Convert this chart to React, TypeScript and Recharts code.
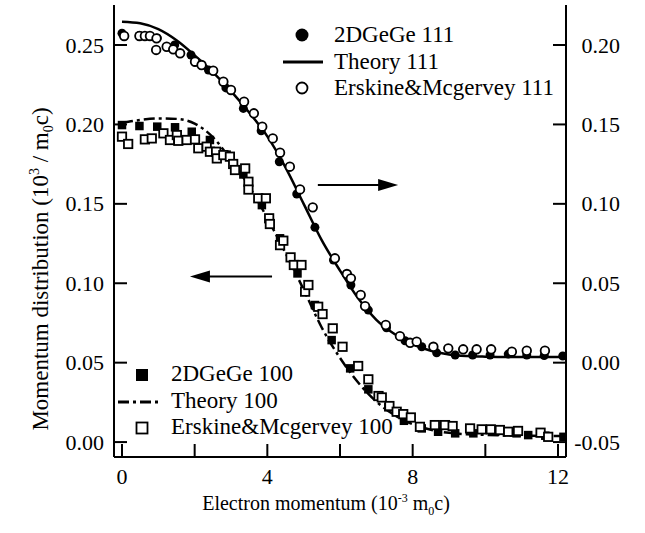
import React from "react";
import {
  ComposedChart,
  Line,
  Scatter,
  XAxis,
  YAxis,
  ReferenceLine,
} from "recharts";

const FONT = "Liberation Serif, DejaVu Serif, serif";

// ---- x ticks ----
const xTicks = [0, 2, 4, 6, 8, 10, 12];
const xLabelTicks = [0, 4, 8, 12];
const leftTicks = [0, 0.05, 0.1, 0.15, 0.2, 0.25];
const rightTicks = [-0.05, 0, 0.05, 0.1, 0.15, 0.2];

// ---- 111 series (right axis) ----
const theory111X = [0, 0.5, 1, 1.5, 2, 2.5, 3, 3.5, 4, 4.5, 5, 5.5, 6, 6.5, 7, 7.5, 8, 8.5, 9, 9.5, 10, 11, 12.2];
const theory111Y = [0.2147, 0.2137, 0.21, 0.203, 0.1935, 0.183, 0.171, 0.1575, 0.1425, 0.123, 0.1, 0.077, 0.058, 0.0405, 0.027, 0.018, 0.0115, 0.0075, 0.0052, 0.0042, 0.0038, 0.0035, 0.0035];

const ge111X = [0, 0.48, 0.97, 1.45, 1.9, 2.38, 2.86, 3.34, 3.83, 4.33, 4.81, 5.31, 5.82, 6.3, 6.78, 7.28, 7.79, 8.25, 8.66, 9.17, 9.65, 10.13, 10.63, 11.14, 11.62, 12.13];
const ge111Y = [0.2074, 0.206, 0.2045, 0.2, 0.1937, 0.1843, 0.173, 0.1601, 0.146, 0.1265, 0.1062, 0.0852, 0.0646, 0.0489, 0.0331, 0.022, 0.0138, 0.01, 0.0062, 0.0048, 0.0048, 0.0048, 0.0054, 0.0048, 0.0045, 0.0042];

const em111X = [0.06, 0.48, 0.63, 0.77, 0.95, 0.94, 1.23, 1.41, 1.6, 2.01, 2.19, 2.51, 2.79, 3.0, 3.36, 3.63, 3.86, 4.15, 4.35, 4.62, 4.9, 5.25, 5.86, 6.19, 6.3, 6.57, 6.69, 7.26, 7.65, 7.93, 8.11, 8.57, 8.98, 9.39, 9.76, 10.16, 10.73, 11.14, 11.64];
const em111Y = [0.2057, 0.2057, 0.2057, 0.2057, 0.2042, 0.1969, 0.1989, 0.1973, 0.1948, 0.1895, 0.1874, 0.1838, 0.1769, 0.1717, 0.1643, 0.157, 0.1486, 0.1412, 0.1322, 0.1234, 0.1091, 0.0978, 0.0657, 0.0558, 0.0531, 0.0426, 0.0356, 0.0237, 0.0167, 0.0125, 0.0132, 0.01, 0.009, 0.0084, 0.0084, 0.0084, 0.0069, 0.0075, 0.0075];

// ---- 100 series (left axis) ----
const theory100X = [0, 0.5, 1, 1.5, 2, 2.5, 3, 3.5, 4, 4.5, 5, 5.5, 6, 6.5, 7, 7.5, 8, 8.5, 9, 10, 11, 12.2];
const theory100Y = [0.2011, 0.2028, 0.2038, 0.2035, 0.2005, 0.192, 0.1775, 0.161, 0.141, 0.119, 0.096, 0.072, 0.053, 0.0375, 0.0255, 0.017, 0.0112, 0.0078, 0.0058, 0.0045, 0.004, 0.0038];

const ge100X = [0, 0.48, 0.97, 1.46, 1.92, 2.42, 2.88, 3.34, 3.85, 4.35, 4.83, 5.31, 5.77, 6.28, 6.78, 7.33, 7.76, 8.25, 8.7, 9.17, 9.67, 10.27, 10.86, 11.18, 11.65, 12.15];
const ge100Y = [0.1996, 0.199, 0.1986, 0.1982, 0.1954, 0.1902, 0.181, 0.1685, 0.1492, 0.1283, 0.1062, 0.0863, 0.0642, 0.0464, 0.0332, 0.0219, 0.0134, 0.0086, 0.0065, 0.0055, 0.0055, 0.0065, 0.0055, 0.0044, 0.004, 0.0033];

const em100X = [0, 0.17, 0.63, 0.82, 1.14, 1.32, 1.51, 1.55, 1.78, 2.01, 2.1, 2.33, 2.42, 2.59, 2.61, 2.79, 2.97, 3.06, 3.11, 3.39, 3.48, 3.48, 3.75, 3.96, 4.05, 4.07, 4.35, 4.44, 4.64, 4.73, 4.94, 5.04, 5.13, 5.4, 5.52, 5.8, 6.07, 6.5, 6.78, 7.06, 7.15, 7.36, 7.56, 7.74, 7.95, 8.2, 8.61, 8.89, 9.1, 9.58, 9.9, 10.15, 10.4, 10.63, 10.9, 11.52, 11.73];
const em100Y = [0.1923, 0.1877, 0.1906, 0.1912, 0.1944, 0.1902, 0.1933, 0.1897, 0.1902, 0.1906, 0.185, 0.186, 0.1828, 0.1828, 0.1786, 0.1807, 0.1797, 0.1751, 0.1713, 0.1723, 0.1639, 0.159, 0.1535, 0.1535, 0.1409, 0.1373, 0.124, 0.1268, 0.1163, 0.1115, 0.1115, 0.0947, 0.0989, 0.0852, 0.0806, 0.0716, 0.06, 0.0479, 0.0395, 0.029, 0.0281, 0.0227, 0.0191, 0.0176, 0.0155, 0.0096, 0.0107, 0.0107, 0.0101, 0.0086, 0.008, 0.008, 0.0076, 0.0065, 0.007, 0.0059, 0.0033];

// arrows (data coords, left axis)
const arrowRight = { x1: 5.39, x2: 7.6, y: 0.1618 };
const arrowLeft = { x1: 4.13, x2: 1.87, y: 0.1042 };

const legend111 = ["2DGeGe 111", "Theory 111", "Erskine&Mcgervey 111"];
const legend100 = ["2DGeGe 100", "Theory 100", "Erskine&Mcgervey 100"];

const zip = (xs: number[], ys: number[]) => xs.map((x, i) => ({ x, y: ys[i] }));

const theory111 = zip(theory111X, theory111Y);
const ge111 = zip(ge111X, ge111Y);
const em111 = zip(em111X, em111Y);
const theory100 = zip(theory100X, theory100Y);
const ge100 = zip(ge100X, ge100Y);
const em100 = zip(em100X, em100Y);

const TICK_LEN = 13;
const TICK_FS = 22;
const LEG_FS = 23;
const DASH100 = "11 4 3 4";
const txt = { fontFamily: FONT };

const BottomTick = (p: any) => {
  const { x, y, payload } = p;
  const show = xLabelTicks.includes(payload.value);
  return (
    <g>
      <line x1={x} y1={y} x2={x} y2={y - TICK_LEN} stroke="#000" strokeWidth={2} />
      {show && (
        <text x={x} y={y + 27} textAnchor="middle" style={txt} fontSize={TICK_FS} fill="#000">
          {payload.value}
        </text>
      )}
    </g>
  );
};

const TopTick = (p: any) => {
  const { x, y } = p;
  return <line x1={x} y1={y} x2={x} y2={y + TICK_LEN} stroke="#000" strokeWidth={2} />;
};

const LeftTick = (p: any) => {
  const { x, y, payload } = p;
  return (
    <g>
      <line x1={x} y1={y} x2={x + TICK_LEN} y2={y} stroke="#000" strokeWidth={2} />
      <text x={x - 10} y={y + 7.5} textAnchor="end" style={txt} fontSize={TICK_FS} fill="#000">
        {payload.value.toFixed(2)}
      </text>
    </g>
  );
};

const RightTick = (p: any) => {
  const { x, y, payload } = p;
  return (
    <g>
      <line x1={x} y1={y} x2={x - TICK_LEN} y2={y} stroke="#000" strokeWidth={2} />
      <text x={x + 54} y={y + 7.5} textAnchor="end" style={txt} fontSize={TICK_FS} fill="#000">
        {payload.value.toFixed(2)}
      </text>
    </g>
  );
};

const FilledCircle = (p: any) => <circle cx={p.cx} cy={p.cy} r={4.5} fill="#000" />;
const OpenCircle = (p: any) => (
  <circle cx={p.cx} cy={p.cy} r={4.3} fill="#fff" stroke="#000" strokeWidth={1.8} />
);
const FilledSquare = (p: any) => <rect x={p.cx - 4.25} y={p.cy - 4.25} width={8.5} height={8.5} fill="#000" />;
const OpenSquare = (p: any) => (
  <rect x={p.cx - 4.2} y={p.cy - 4.2} width={8.4} height={8.4} fill="#fff" stroke="#000" strokeWidth={1.8} />
);

const ArrowShape = (p: any) => {
  const { x1, y1, x2, y2 } = p;
  if (x1 == null || x2 == null) return null;
  const dir = Math.sign(x2 - x1);
  const head = 20;
  return (
    <g>
      <line x1={x1} y1={y1} x2={x2 - dir * (head - 2)} y2={y2} stroke="#000" strokeWidth={2} />
      <polygon
        points={`${x2},${y2} ${x2 - dir * head},${y2 - 6} ${x2 - dir * head},${y2 + 6}`}
        fill="#000"
      />
    </g>
  );
};

const Overlay = () => (
  <svg
    width={645}
    height={533}
    style={{ position: "absolute", left: 0, top: 0, pointerEvents: "none", fontFamily: FONT }}
  >
    {/* legend 111 */}
    <circle cx={302} cy={35} r={6.5} fill="#000" />
    <line x1={283} y1={62} x2={323} y2={62} stroke="#000" strokeWidth={3} />
    <circle cx={302} cy={88} r={5.5} fill="#fff" stroke="#000" strokeWidth={1.8} />
    <text x={334} y={42} style={txt} fontSize={LEG_FS}>{legend111[0]}</text>
    <text x={334} y={68.5} style={txt} fontSize={LEG_FS}>{legend111[1]}</text>
    <text x={334} y={95} style={txt} fontSize={LEG_FS}>{legend111[2]}</text>
    {/* legend 100 */}
    <rect x={136} y={369} width={12} height={12} fill="#000" />
    <line x1={118} y1={402} x2={162} y2={402} stroke="#000" strokeWidth={3} strokeDasharray={DASH100} />
    <rect x={136.5} y={422.5} width={11} height={11} fill="#fff" stroke="#000" strokeWidth={1.8} />
    <text x={171} y={381} style={txt} fontSize={LEG_FS}>{legend100[0]}</text>
    <text x={171} y={407.5} style={txt} fontSize={LEG_FS}>{legend100[1]}</text>
    <text x={171} y={434} style={txt} fontSize={LEG_FS}>{legend100[2]}</text>
    {/* axis titles */}
    <text x={326} y={510} textAnchor="middle" style={txt} fontSize={20}>
      Electron momentum (10
      <tspan dy={-8} fontSize={12}>-3</tspan>
      <tspan dy={8}> m</tspan>
      <tspan dy={5} fontSize={12}>0</tspan>
      <tspan dy={-5}>c)</tspan>
    </text>
    <text
      x={0}
      y={0}
      transform="translate(48,269) rotate(-90)"
      textAnchor="middle"
      style={txt}
      fontSize={23}
    >
      Momentum distribution (10
      <tspan dy={-9} fontSize={14}>3</tspan>
      <tspan dy={9}> / m</tspan>
      <tspan dy={5} fontSize={14}>0</tspan>
      <tspan dy={-5}>c)</tspan>
    </text>
  </svg>
);

export default function App() {
  return (
    <div style={{ position: "absolute", left: 0, top: 0, width: 645, height: 533, background: "#fff", fontFamily: FONT }}>
      <ComposedChart width={645} height={533} margin={{ top: 5, right: 0, bottom: 0, left: 0 }}>
        <XAxis
          xAxisId="b"
          dataKey="x"
          type="number"
          domain={[-0.22, 12.22]}
          ticks={xTicks}
          allowDataOverflow
          height={76}
          tickLine={false}
          tickSize={0}
          tickMargin={0}
          axisLine={{ stroke: "#000", strokeWidth: 2 }}
          tick={<BottomTick />}
          interval={0}
        />
        <XAxis
          xAxisId="t"
          dataKey="x"
          type="number"
          orientation="top"
          domain={[-0.22, 12.22]}
          ticks={xTicks}
          allowDataOverflow
          height={0}
          tickLine={false}
          tickSize={0}
          tickMargin={0}
          axisLine={{ stroke: "#000", strokeWidth: 2 }}
          tick={<TopTick />}
          interval={0}
        />
        <YAxis
          yAxisId="L"
          dataKey="y"
          type="number"
          domain={[-0.0094, 0.2752]}
          ticks={leftTicks}
          allowDataOverflow
          width={114}
          tickLine={false}
          tickSize={0}
          tickMargin={0}
          axisLine={{ stroke: "#000", strokeWidth: 2 }}
          tick={<LeftTick />}
          interval={0}
        />
        <YAxis
          yAxisId="R"
          dataKey="y"
          type="number"
          orientation="right"
          domain={[-0.0594, 0.2252]}
          ticks={rightTicks}
          allowDataOverflow
          width={79}
          tickLine={false}
          tickSize={0}
          tickMargin={0}
          axisLine={{ stroke: "#000", strokeWidth: 2 }}
          tick={<RightTick />}
          interval={0}
        />
        <Line
          xAxisId="b"
          yAxisId="R"
          data={theory111}
          dataKey="y"
          type="monotone"
          stroke="#000"
          strokeWidth={2.5}
          dot={false}
          activeDot={false}
          isAnimationActive={false}
        />
        <Line
          xAxisId="b"
          yAxisId="L"
          data={theory100}
          dataKey="y"
          type="monotone"
          stroke="#000"
          strokeWidth={2.5}
          strokeDasharray={DASH100}
          dot={false}
          activeDot={false}
          isAnimationActive={false}
        />
        <Scatter xAxisId="b" yAxisId="R" data={ge111} dataKey="y" shape={FilledCircle} isAnimationActive={false} />
        <Scatter xAxisId="b" yAxisId="L" data={ge100} dataKey="y" shape={FilledSquare} isAnimationActive={false} />
        <Scatter xAxisId="b" yAxisId="R" data={em111} dataKey="y" shape={OpenCircle} isAnimationActive={false} />
        <Scatter xAxisId="b" yAxisId="L" data={em100} dataKey="y" shape={OpenSquare} isAnimationActive={false} />
        <ReferenceLine
          xAxisId="b"
          yAxisId="L"
          segment={[
            { x: arrowRight.x1, y: arrowRight.y },
            { x: arrowRight.x2, y: arrowRight.y },
          ]}
          shape={ArrowShape}
        />
        <ReferenceLine
          xAxisId="b"
          yAxisId="L"
          segment={[
            { x: arrowLeft.x1, y: arrowLeft.y },
            { x: arrowLeft.x2, y: arrowLeft.y },
          ]}
          shape={ArrowShape}
        />
      </ComposedChart>
      <Overlay />
    </div>
  );
}
